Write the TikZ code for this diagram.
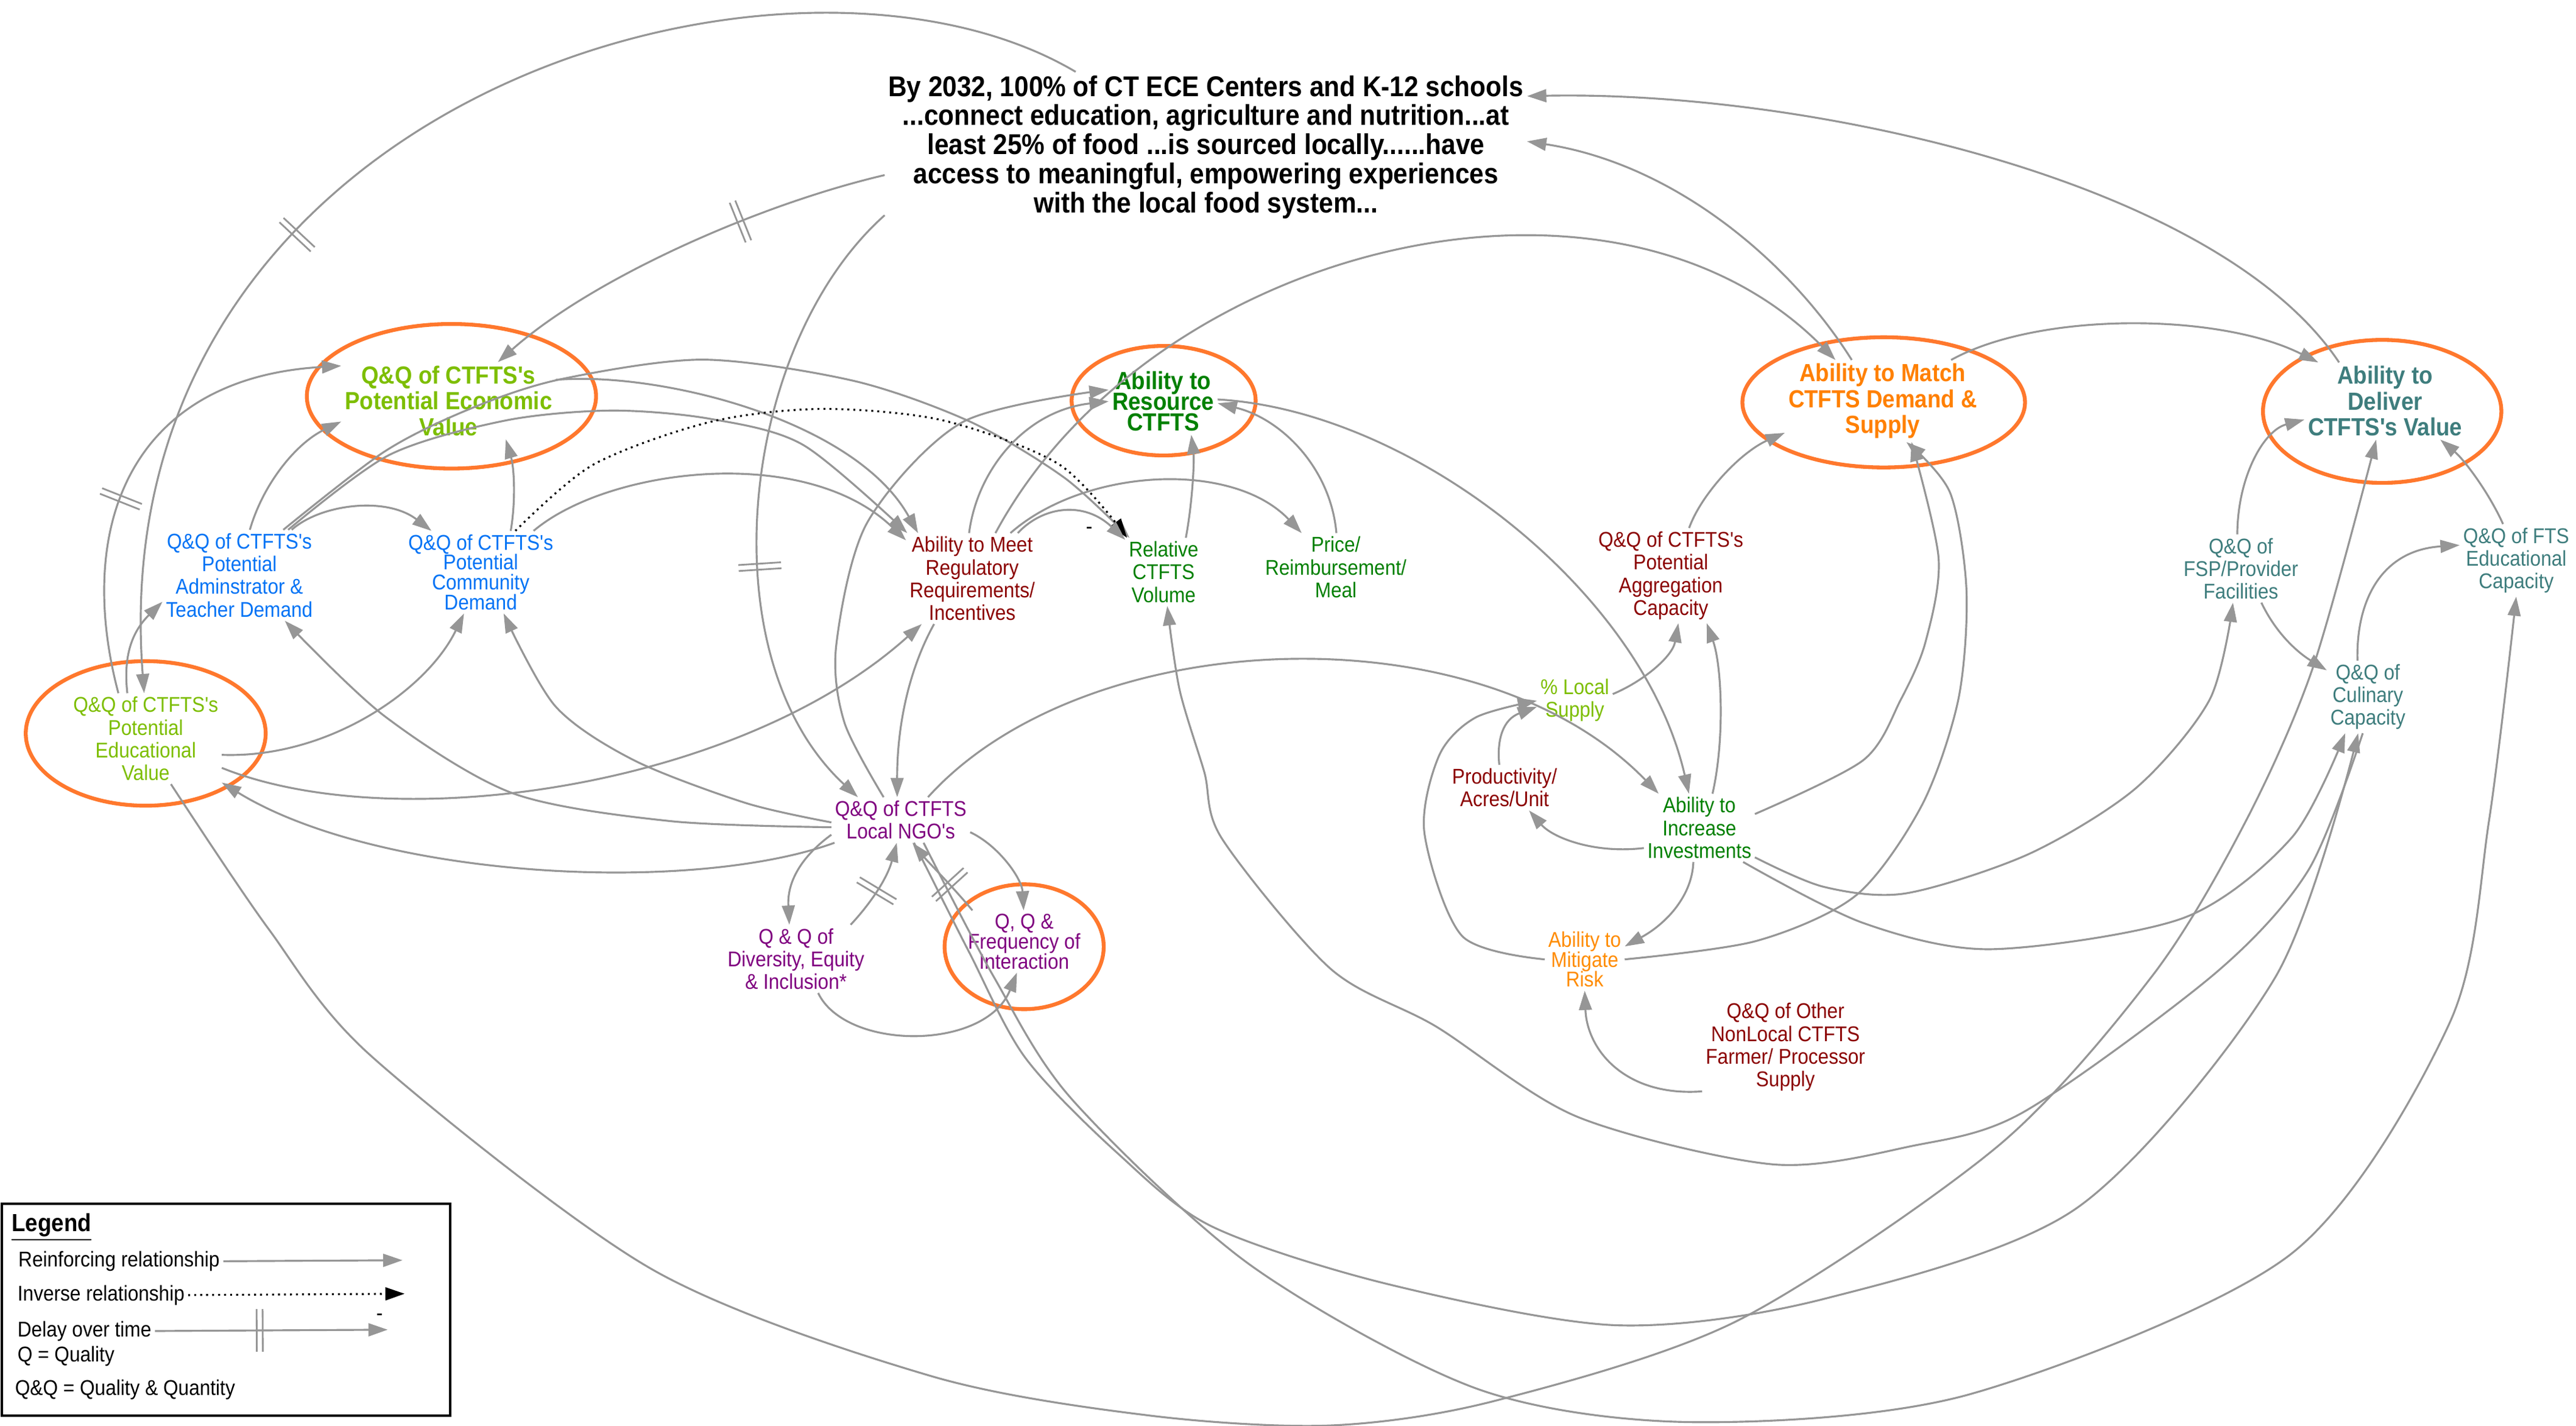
\documentclass[tikz,border=0pt]{standalone}
\usepackage{fontspec}
\setmainfont{Liberation Sans}[FakeStretch=0.9,Ligatures=TeXOff]
\usetikzlibrary{arrows.meta,decorations.markings}

\definecolor{ygreen}{RGB}{125,190,0}
\definecolor{dgreen}{RGB}{0,128,0}
\definecolor{dred}{RGB}{139,0,0}
\definecolor{cblue}{RGB}{0,115,245}
\definecolor{cpurple}{RGB}{128,0,128}
\definecolor{corange}{RGB}{255,128,0}
\definecolor{rorange}{RGB}{255,140,0}
\definecolor{cteal}{RGB}{62,125,125}
\definecolor{ringc}{RGB}{255,120,45}
\definecolor{linkgray}{RGB}{150,150,150}

\newcommand{\cldvar}{\fontsize{10}{10.6}\selectfont\lineskiplimit=-20pt}
\newcommand{\cldtight}{\fontsize{10}{9.3}\selectfont\lineskiplimit=-20pt}
\newcommand{\cldhead}{\fontsize{11.6}{12.1}\selectfont\bfseries\lineskiplimit=-20pt}
\newcommand{\cldheadtight}{\fontsize{11.6}{9.7}\selectfont\bfseries\lineskiplimit=-20pt}
\newcommand{\cldgoal}{\fontsize{13.4}{13.6}\selectfont\bfseries\lineskiplimit=-20pt}

\begin{document}
\begin{tikzpicture}[x=0.027cm, y=-0.027cm,
    var/.style={align=center, inner sep=1.5pt, font=\cldvar},
    tightvar/.style={var, font=\cldtight},
    head/.style={align=center, inner sep=1.5pt, font=\cldhead},
    ring/.style={draw=ringc, line width=1.8pt},
    conn/.style={draw=linkgray, line width=0.9pt, -{Triangle[length=9pt,width=6pt]}},
    inv/.style={draw=black, line width=0.9pt, dash pattern=on 0.9pt off 1.9pt, -{Triangle[length=9pt,width=6pt]}},
    lag/.style={postaction={decorate}, decoration={markings, mark=at position #1 with {\draw[-, solid, linkgray, line width=0.8pt] (-1.4pt,-10pt) -- (-1.4pt,10pt) (1.4pt,-10pt) -- (1.4pt,10pt);}}},
    key/.style={anchor=west, inner sep=1.5pt, font=\cldvar}]
  \fill[white] (0,0) rectangle (1568,868);
  \useasboundingbox (0,0) rectangle (1568,868);

  % rings
  \draw[ring] (274.8,241.3) ellipse [x radius=2.376cm, y radius=1.188cm];
  \draw[ring] (708.3,244) ellipse [x radius=1.512cm, y radius=0.9cm];
  \draw[ring] (1146.6,245) ellipse [x radius=2.322cm, y radius=1.07cm];
  \draw[ring] (1450,250.5) ellipse [x radius=1.958cm, y radius=1.175cm];
  \draw[ring] (88.7,446.6) ellipse [x radius=1.971cm, y radius=1.188cm];
  \draw[ring] (623.4,576.5) ellipse [x radius=1.307cm, y radius=1.026cm];

  % goal
  \node[align=center, inner sep=1.5pt, font=\cldgoal] (goal) at (734,89.5) {By 2032, 100\% of CT ECE Centers and K-12 schools\\...connect education, agriculture and nutrition...at\\least 25\% of food ...is sourced locally......have\\access to meaningful, empowering experiences\\with the local food system...};

  % variables
  \node[head, text=ygreen] (econ) at (273,244) {Q\&Q of CTFTS's\\Potential Economic\\Value};
  \node[head, font=\cldheadtight, text=dgreen] (resource) at (708,244.4) {Ability to\\Resource\\CTFTS};
  \node[head, text=corange] (match) at (1146,244.2) {Ability to Match\\CTFTS Demand \&\\Supply};
  \node[head, text=cteal] (deliver) at (1451.8,244.2) {Ability to\\Deliver\\CTFTS's Value};
  \node[var, text=ygreen] (eduval) at (88.7,449.8) {Q\&Q of CTFTS's\\Potential\\Educational\\Value};
  \node[tightvar, text=cpurple] (freq) at (623.4,573.3) {Q, Q \&\\Frequency of\\Interaction};
  \node[var, text=cblue] (admin) at (145.7,350.3) {Q\&Q of CTFTS's\\Potential\\Adminstrator \&\\Teacher Demand};
  \node[tightvar, text=cblue] (community) at (292.6,348.4) {Q\&Q of CTFTS's\\Potential\\Community\\Demand};
  \node[var, text=dred] (regs) at (591.8,352.3) {Ability to Meet\\Regulatory\\Requirements/\\Incentives};
  \node[var, text=dgreen] (volume) at (708.3,348.3) {Relative\\CTFTS\\Volume};
  \node[var, text=dgreen] (price) at (813.1,345.4) {Price/\\Reimbursement/\\Meal};
  \node[var, text=dred] (aggr) at (1017,350.5) {Q\&Q of CTFTS's\\Potential\\Aggregation\\Capacity};
  \node[var, text=ygreen] (localsup) at (958.6,426.3) {\% Local\\Supply};
  \node[var, text=dred] (prod) at (915.8,479.6) {Productivity/\\Acres/Unit};
  \node[var, text=dgreen] (invest) at (1034.4,504.1) {Ability to\\Increase\\Investments};
  \node[tightvar, text=rorange] (risk) at (964.6,584.2) {Ability to\\Mitigate\\Risk};
  \node[var, text=dred] (nonlocal) at (1086.8,637.6) {Q\&Q of Other\\NonLocal CTFTS\\Farmer/ Processor\\Supply};
  \node[var, text=cpurple] (ngo) at (548.3,499.3) {Q\&Q of CTFTS\\Local NGO's};
  \node[var, text=cpurple] (dei) at (484.5,583.9) {Q \& Q of\\Diversity, Equity\\\& Inclusion*};
  \node[var, text=cteal] (fsp) at (1364,346.2) {Q\&Q of\\FSP/Provider\\Facilities};
  \node[var, text=cteal] (culinary) at (1441.3,424.4) {Q\&Q of\\Culinary\\Capacity};
  \node[var, text=cteal] (ftsedu) at (1531.6,341.2) {Q\&Q of FTS\\Educational\\Capacity};
  \node[var] (minus) at (663,323) {-};

  % links from and to the goal
  \draw[conn, lag=0.63] (goal.150) .. controls (480,-60) and (60,60) .. (eduval.92);
  \draw[conn, lag=0.35] (goal.185) .. controls (460,125) and (360,170) .. (econ.38);
  \draw[conn, lag=0.6] (goal.192) .. controls (450,210) and (430,400) .. (ngo.152);
  \draw[conn] (deliver.140) .. controls (1350,110) and (1100,55) .. (goal.9);
  \draw[conn] (match.127) .. controls (1090,160) and (1020,100) .. (goal.1);

  % demand side
  \draw[conn, lag=0.42] (eduval.121) .. controls (45,320) and (80,230) .. (econ.162);
  \draw[conn] (eduval.112) .. controls (75,400) and (80,385) .. (admin.199);
  \draw[conn] (admin.77) .. controls (160,295) and (180,270) .. (econ.191);
  \draw[conn] (admin.41) .. controls (195,307) and (235,302) .. (community.140);
  \draw[conn] (community.54) .. controls (314,305) and (313,285) .. (econ.326);
  \draw[conn] plot[smooth] coordinates {(admin.46) (234,275) (286,249) (341,231) (428,219) (520,232) (591,257) (648,291) (volume.135)};
  \draw[conn] (econ.11) .. controls (400,226) and (520,255) .. (regs.140);
  \draw[conn] plot[smooth] coordinates {(admin.43) (237,277) (308,256) (372,250) (432,255) (489,271) (regs.145)};
  \draw[conn] (community.38) .. controls (370,285) and (490,270) .. (regs.150);
  \draw[inv] plot[smooth] coordinates {(community.50) (361,283) (432,257) (500,249) (574,256) (645,283) (volume.137)};
  \draw[conn] (eduval.348) .. controls (200,462) and (260,420) .. (community.248);
  \draw[conn] (eduval.339) .. controls (240,510) and (450,480) .. (regs.222);

  % NGO links
  \draw[conn] plot[smooth] coordinates {(ngo.186) (408,500) (312,483) (234,436) (admin.315)};
  \draw[conn] plot[smooth] coordinates {(ngo.182) (454,489) (386,463) (338,430) (community.299)};
  \draw[conn] (ngo.199) .. controls (420,545) and (230,535) .. (eduval.330);
  \draw[conn] plot[smooth] coordinates {(ngo.127) (514,440) (509,393) (528,318) (586,257) (resource.168)};
  \draw[conn] (regs.94) .. controls (595,285) and (625,250) .. (resource.180);
  \draw[conn] (regs.230) .. controls (552,410) and (546,445) .. (ngo.99);
  \draw[conn] (ngo.40) .. controls (660,380) and (900,370) .. (invest.140);
  \draw[conn] (ngo.192) .. controls (490,520) and (479,535) .. (dei.101);
  \draw[conn, lag=0.45] (dei.32) .. controls (530,550) and (540,535) .. (ngo.260);
  \draw[conn] (ngo.350) .. controls (608,515) and (622,535) .. (freq.91);
  \draw[conn, lag=0.38] (freq.149) .. controls (580,540) and (565,525) .. (ngo.297);
  \draw[conn] (dei.303) .. controls (515,640) and (600,640) .. (freq.257);
  \draw[conn] plot[smooth] coordinates {(ngo.300) (590,580) (624,644) (680,702) (738,747) (845,782) (984,807) (1110,791) (1265,735) (1385,595) (culinary.255)};
  \draw[conn] plot[smooth] coordinates {(ngo.315) (605,595) (653,670) (762,771) (900,846) (1031,866) (1199,849) (1394,764) (1491,623) (1515,500) (ftsedu.270)};

  % resourcing
  \draw[conn] (volume.57) .. controls (726,305) and (727,280) .. (resource.310);
  \draw[conn] (price.89) .. controls (810,285) and (780,255) .. (resource.358);
  \draw[conn] (resource.2) .. controls (860,250) and (1000,360) .. (invest.107);
  \draw[conn] (regs.45) .. controls (635,308) and (660,305) .. (volume.140);
  \draw[conn] (regs.50) .. controls (660,285) and (750,280) .. (price.135);
  \draw[conn] (regs.63) .. controls (700,150) and (980,80) .. (match.139);
  \draw[conn] plot[smooth] coordinates {(culinary.262) (1405,530) (1348,593) (1232,677) (1163,698) (1079,709) (960,680) (874,625) (810,590) (744,511) (733,470) (718,420) (volume.276)};

  % matching and delivering
  \draw[conn] (match.31) .. controls (1240,190) and (1350,190) .. (deliver.150);
  \draw[conn] (fsp.96) .. controls (1362,290) and (1378,262) .. (deliver.193);
  \draw[conn] (ftsedu.110) .. controls (1515,300) and (1500,280) .. (deliver.325);
  \draw[conn] (aggr.69) .. controls (1036,300) and (1060,275) .. (match.198);
  \draw[conn] plot[smooth] coordinates {(invest.14) (1134,463) (1157,426) (1172,391) (1180,340) (match.305)};
  \draw[conn] plot[smooth] coordinates {(risk.0) (1069,573) (1130,545) (1170,490) (1192,426) (1197,360) (1187,300) (match.300)};
  \draw[conn] plot[smooth] coordinates {(eduval.299) (163,565) (227,644) (397,773) (567,838) (700,862) (810,868) (910,853) (1058,804) (1216,698) (1311,593) (1367,500) (1408,406) (deliver.257)};

  % supply side
  \draw[conn] (invest.69) .. controls (1050,450) and (1048,405) .. (aggr.307);
  \draw[conn] (localsup.9) .. controls (1000,415) and (1018,400) .. (aggr.279);
  \draw[conn] (prod.103) .. controls (911,450) and (915,438) .. (localsup.190);
  \draw[conn] plot[smooth] coordinates {(risk.180) (890,570) (867,507) (876,460) (898,437) (localsup.181)};
  \draw[conn] (invest.200) .. controls (970,520) and (945,510) .. (prod.317);
  \draw[conn] (invest.260) .. controls (1030,545) and (1015,562) .. (risk.18);
  \draw[conn] (nonlocal.208) .. controls (990,668) and (966,640) .. (risk.270);

  % service side
  \draw[conn] plot[smooth] coordinates {(invest.332) (1110,540) (1160,544) (1235,520) (1300,480) (1345,426) (fsp.257)};
  \draw[conn] plot[smooth] coordinates {(invest.322) (1134,562) (1212,578) (1329,559) (1395,510) (culinary.238)};
  \draw[conn] (fsp.301) .. controls (1385,385) and (1398,397) .. (culinary.147);
  \draw[conn] (culinary.106) .. controls (1434,365) and (1450,335) .. (ftsedu.165);

  % legend
  \draw[line width=1.1pt] (1,733) rectangle (274,862);
  \node[key, font=\cldhead] (legtitle) at (5,747.3) {\underline{Legend}};
  \node[key] (reinf) at (9,768) {Reinforcing relationship};
  \coordinate (reinfend) at (245,767.4);
  \draw[conn] (reinf.east) -- (reinfend);
  \node[key] (invkey) at (8.5,788.6) {Inverse relationship};
  \coordinate (invend) at (246.3,787.8);
  \draw[inv] (invkey.east) -- (invend);
  \node[key] (lagkey) at (8.5,810.5) {Delay over time};
  \coordinate (lagend) at (236,809.7);
  \draw[conn, lag=0.45] (lagkey.east) -- (lagend);
  \node[var] (lagminus) at (231,802.2) {-};
  \node[key] (qkey) at (8.5,826) {Q = Quality};
  \node[key] (qqkey) at (7,846.1) {Q\&Q = Quality \& Quantity};
\end{tikzpicture}
\end{document}
